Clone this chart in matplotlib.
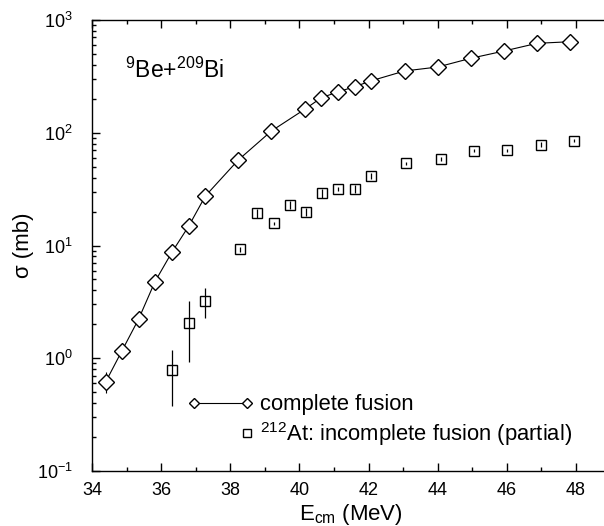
import matplotlib
matplotlib.use("Agg")
import matplotlib.pyplot as plt
from matplotlib.legend_handler import HandlerLine2D
from matplotlib.ticker import LogLocator, MultipleLocator, NullFormatter

plt.rcParams['font.family'] = ['Liberation Sans', 'DejaVu Sans']
plt.rcParams['mathtext.default'] = 'regular'

# complete fusion cross sections (9Be + 209Bi)
cf_energy = [34.40, 34.87, 35.35, 35.82, 36.31, 36.80, 37.28, 38.23, 39.19, 40.16,
             40.63, 41.12, 41.60, 42.06, 43.04, 44.00, 44.95, 45.92, 46.87, 47.84]
cf_sigma = [0.62, 1.17, 2.23, 4.77, 8.7, 14.9, 27.5, 57.3, 103.7, 162,
            204, 231, 256, 288, 353, 383, 457, 531, 621, 642]
cf_err = [0.13, 0.05, 0.08, 0.17, 0.3, 0.5, 0.9, 1.8, 3.0, 5,
          6, 7, 8, 9, 10, 11, 13, 15, 17, 18]

# 212At from incomplete fusion (partial)
icf_energy = [36.31, 36.80, 37.28, 38.28, 38.76, 39.25, 39.72, 40.18, 40.64, 41.12,
              41.60, 42.08, 43.08, 44.10, 45.05, 46.00, 46.98, 47.93]
icf_sigma = [0.78, 2.07, 3.24, 9.25, 19.3, 15.7, 22.9, 19.9, 29.0, 31.7,
             31.7, 41.1, 53.5, 58.5, 69.3, 69.8, 78.3, 85.1]
icf_err = [0.40, 1.15, 0.96, 0.5, 1.6, 0.6, 2.0, 1.6, 2.4, 1.4,
           2.6, 2.6, 2.0, 2.4, 2.2, 2.2, 4.0, 3.0]


class RightMarkerHandler(HandlerLine2D):
    # legend entry with a single marker at the right end of the handle
    def create_artists(self, legend, orig_handle, xdescent, ydescent,
                       width, height, fontsize, trans):
        artists = super().create_artists(legend, orig_handle, xdescent, ydescent,
                                         width, height, fontsize, trans)
        for a in artists:
            a.set_markevery([len(a.get_xdata()) - 1])
        return artists


W, H = 604, 526
fig = plt.figure(figsize=(W / 100, H / 100), dpi=100)
ax = fig.add_axes([92 / W, 55 / H, 518.6 / W, 451 / H])

cf = ax.errorbar(cf_energy, cf_sigma, yerr=cf_err, fmt='-', color='black', lw=0.8,
                 elinewidth=0.8, capsize=0, marker='D', ms=8, mfc='white',
                 mec='black', mew=1.0, label='complete fusion')
icf = ax.errorbar(icf_energy, icf_sigma, yerr=icf_err, fmt='none', ecolor='black',
                  elinewidth=0.9, capsize=0)
sq, = ax.plot(icf_energy, icf_sigma, ls='none', marker='s', ms=7.5, mfc='none',
              mec='black', mew=1.0, label='$^{212}$At: incomplete fusion (partial)')

ax.set_yscale('log')
ax.set_xlim(34, 49)
ax.set_ylim(0.1, 1000)

ax.xaxis.set_major_locator(MultipleLocator(2))
ax.xaxis.set_minor_locator(MultipleLocator(1))
ax.yaxis.set_major_locator(LogLocator(base=10, numticks=10))
ax.yaxis.set_minor_locator(LogLocator(base=10, subs=range(2, 10), numticks=10))
ax.yaxis.set_minor_formatter(NullFormatter())
ax.tick_params(which='both', direction='in', top=True, right=False, width=1.0)
ax.tick_params(which='major', length=6, labelsize=13, pad=8)
ax.tick_params(which='minor', length=3)
ax.tick_params(axis='y', which='major', pad=14)
for s in ax.spines.values():
    s.set_linewidth(1.0)

ax.set_xlabel('$E_{cm}$ (MeV)', fontsize=16, labelpad=2)
ax.set_ylabel('σ (mb)', fontsize=16, labelpad=2)

ax.text(0.064, 0.871, '$^{9}$Be+$^{209}$Bi', transform=ax.transAxes, fontsize=16.5,
        va='baseline', ha='left')

leg = ax.legend([cf[0], sq], ['complete fusion', '$^{212}$At: incomplete fusion (partial)'],
                handler_map={cf[0]: HandlerLine2D(numpoints=2),
                             sq: RightMarkerHandler(numpoints=2)},
                loc='upper left', bbox_to_anchor=(0.184, 0.17), frameon=False,
                fontsize=15.8, borderpad=0, borderaxespad=0, handlelength=3.0,
                handletextpad=0.3, labelspacing=0.2, markerscale=0.7)

fig.savefig('out.png', dpi=100)
